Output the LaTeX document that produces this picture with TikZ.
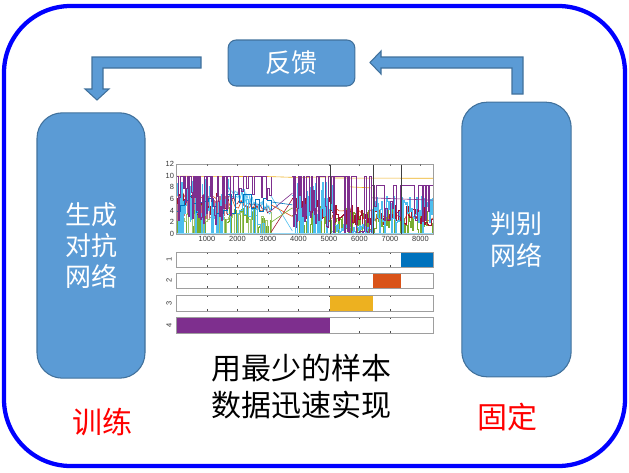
\documentclass[tikz,border=0pt]{standalone}
\usepackage{fontspec}
\setmainfont{Liberation Sans}
\newfontfamily\cjk{Noto Sans CJK SC}
\definecolor{boxfill}{HTML}{5B9BD5}
\definecolor{boxline}{HTML}{41719C}
\definecolor{mpurple}{rgb}{0.494,0.184,0.556}
\definecolor{mcyan}{rgb}{0.301,0.745,0.933}
\definecolor{mred}{rgb}{0.635,0.078,0.184}
\definecolor{mgreen}{rgb}{0.466,0.674,0.188}
\definecolor{morange}{rgb}{0.850,0.325,0.098}
\definecolor{myellow}{rgb}{0.929,0.694,0.125}
\definecolor{mblue}{rgb}{0,0.447,0.741}
\definecolor{axgray}{gray}{0.62}
\tikzset{
  netbox/.style={draw=boxline, fill=boxfill, line width=0.8pt, text=white,
    font=\cjk\fontsize{19.5}{23.5}\selectfont, align=center, inner sep=0pt},
  blockarrow/.style={draw=boxline, fill=boxfill, line width=0.8pt, line join=miter},
  bigtext/.style={font=\cjk\fontsize{22.5}{27.8}\selectfont, align=center},
  redtext/.style={font=\cjk\fontsize{22.5}{27}\selectfont, text=red},
  lab/.style={font=\fontsize{5.6}{6}\selectfont, text=black!80, inner sep=0.8pt},
  dl/.style={line width=0.45pt},
  pl/.style={line width=0.6pt},
  panel/.style={draw=axgray, line width=0.6pt}
}
\begin{document}
\begin{tikzpicture}[x=0.75pt,y=-0.75pt]
\useasboundingbox (0,0) rectangle (629,472);
% outer frame
\draw[draw={rgb,255:red,0;green,0;blue,255}, line width=3.2pt, rounded corners=50pt] (4,6) rectangle (625,466);

% boxes
\node[netbox, rounded corners=19pt, minimum width=81pt, minimum height=199pt] (gan) at (91,245.5) {生成\\对抗\\网络};
\node[netbox, rounded corners=19pt, minimum width=82pt, minimum height=206pt] (disc) at (516.5,239.5) {判别\\网络};
\node[netbox, rounded corners=6pt, minimum width=95pt, minimum height=34.5pt] (fb) at (291.5,63) {反馈};

% block arrows
\draw[blockarrow] (201,57) -- (92,57) -- (92,89) -- (85,89) -- (97,100) -- (109,89) -- (103,89) -- (103,68) -- (201,68) -- cycle;
\draw[blockarrow] (523,94) -- (523,57) -- (381,57) -- (381,51) -- (370,62.5) -- (381,74) -- (381,68) -- (512,68) -- (512,94) -- cycle;

% texts
\node[bigtext] (msg) at (301,386.5) {用最少的样本\\数据迅速实现};
\node[redtext] (train) at (102,422) {训练};
\node[redtext] (fix) at (507,417) {固定};

% ---------- top plot ----------
\begin{scope}[shift={(176.5*0.75pt,-234*0.75pt)}, x=0.022875pt, y=4.375pt]
\pgfmathsetseed{17}
\begin{scope}
\clip (0,0) rectangle (8410,12);
% yellow
\draw[myellow, dl] (0,9.9) -- (3000,9.85) -- (3900,9.7) -- (5100,9.8) -- (5200,9.6) -- (8410,9.55);
\draw[myellow, dl] (5600,8.1) -- (6400,7.9);
% green spikes
\draw[mgreen, dl] plot[const plot, domain=0:3100, samples=80] (\x,{ifthenelse(rnd>0.45,1+4*rnd,0.1)});
\draw[mgreen!70, dl] plot[const plot, domain=0:3100, samples=50] (\x,{ifthenelse(rnd>0.5,2+2*rnd,0.2)});
\draw[mgreen, dl] plot[const plot, domain=3800:5100, samples=35] (\x,{ifthenelse(rnd>0.4,1+4*rnd,0.1)});
\draw[mgreen, dl] plot[const plot, domain=5100:8410, samples=100] (\x,{ifthenelse(rnd>0.4,0.5+4*rnd,0.2)});
% orange
\draw[morange, dl] plot[domain=0:3100, samples=30] (\x,{6-0.0008*\x+1.5*rnd});
\draw[morange, dl] plot[domain=3800:8410, samples=40] (\x,{2+2.5*rnd});
% dark red
\draw[mred, dl] plot[const plot, domain=0:1700, samples=80] (\x,{3+4*rnd});
\draw[mred!60, dl] plot[const plot, domain=0:1700, samples=50] (\x,{2+5*rnd});
\draw[mred, dl] plot[domain=1700:3100, samples=25] (\x,{5.5-0.0015*(\x-1700)+1.2*rnd});
\draw[mred, dl] plot[const plot, domain=3800:5100, samples=60] (\x,{2.5+4*rnd});
\draw[mred, dl] plot[const plot, domain=5100:8410, samples=70] (\x,{1.5+3.5*rnd});
% cyan
\draw[mcyan, dl] plot[const plot, domain=0:1700, samples=70] (\x,{ifthenelse(rnd>0.25,2+7.5*rnd,0)});
\draw[mcyan, dl] plot[domain=1700:3100, samples=40] (\x,{7-0.0025*(\x-1700)+1.5*rnd});
\draw[mcyan, dl] plot[domain=1700:3100, samples=30] (\x,{6-0.002*(\x-1700)+1.5*rnd});
\draw[mcyan, dl] plot[const plot, domain=1700:3100, samples=20] (\x,{ifthenelse(rnd>0.5,1+7*rnd,0)});
\draw[mcyan, dl] plot[const plot, domain=3800:5100, samples=60] (\x,{ifthenelse(rnd>0.25,2+7*rnd,0)});
\draw[mcyan, dl] plot[const plot, domain=5100:6400, samples=40] (\x,{0.2+1.5*rnd});
\draw[mcyan, dl] plot[const plot, domain=6400:8410, samples=70] (\x,{ifthenelse(rnd>0.2,2+4.5*rnd,0.3)});
\draw[mblue, dl] plot[const plot, domain=0:3100, samples=25] (\x,{3+4*rnd});
% crossing lines in the gap
\draw[mcyan, dl] (3100,6.5) -- (3800,0.5);
\draw[mred, dl] (3100,0.3) -- (3800,6);
\draw[mpurple, dl] (3100,4) -- (3800,7);
\draw[morange, dl] (3100,5) -- (3800,3);
\draw[mgreen, dl] (3100,2) -- (3800,4.5);
\draw[mblue, dl] (3100,5.5) -- (3800,5);
% purple
\draw[mpurple, pl] plot[const plot, domain=0:1800, samples=60] (\x,{ifthenelse(rnd>0.45,9.8,1+7*rnd)});
\draw[mpurple, pl] plot[const plot, domain=1800:3100, samples=25] (\x,{ifthenelse(rnd>0.5,9.8,5+3*rnd)});
\draw[mpurple, pl] plot[const plot, domain=3800:5100, samples=45] (\x,{ifthenelse(rnd>0.45,9.8,1+7*rnd)});
\draw[mpurple, pl] plot[const plot, domain=5100:6400, samples=30] (\x,{ifthenelse(rnd>0.45,9.8,0.5*rnd)});
\draw[mpurple, pl] plot[const plot, domain=6400:8410, samples=40] (\x,{ifthenelse(rnd>0.35,8.3,2+4*rnd)});
\draw[mpurple, dl] (6400,6.2) -- (8410,5.8);
\draw[mcyan!60, dl] (0,0.05) -- (8410,0.05);
\end{scope}
% separators
\foreach \v in {5030,6440,7360} \draw[black!75, line width=0.6pt] (\v,0) -- (\v,12);
% frame and ticks
\draw[panel] (0,0) rectangle (8410,12);
\foreach \v in {1000,2000,...,8000} {
  \draw[axgray!70!black, line width=0.4pt] (\v,12) -- (\v,11.6);
  \node[lab, anchor=north] (xl\v) at (\v,-0.15) {\v};
}
\foreach \v in {0,2,...,12} \node[lab, anchor=east] (yl\v) at (-40,\v) {\v};
\end{scope}

% ---------- bar panels ----------
\foreach \t in {207,237.5,...,420} {
  \foreach \a/\b in {252/267,273/288,295/311,317/333} {
    \draw[black!70, line width=0.4pt] (\t,\a) -- (\t,\a+2);
    \draw[black!70, line width=0.4pt] (\t,\b) -- (\t,\b-2);
  }
}
\fill[mblue] (401,252) rectangle (433,267);
\fill[morange] (373,273) rectangle (401,288);
\fill[myellow] (330,295) rectangle (373,311);
\fill[mpurple] (176.5,317) rectangle (330,333);
\foreach \a/\b/\n in {252/267/1,273/288/2,295/311/3,317/333/4} {
  \draw[panel] (176.5,\a) rectangle (433,\b);
  \node[lab, rotate=90] (bl\n) at (169,{(\a+\b)/2}) {\n};
}
\end{tikzpicture}
\end{document}
